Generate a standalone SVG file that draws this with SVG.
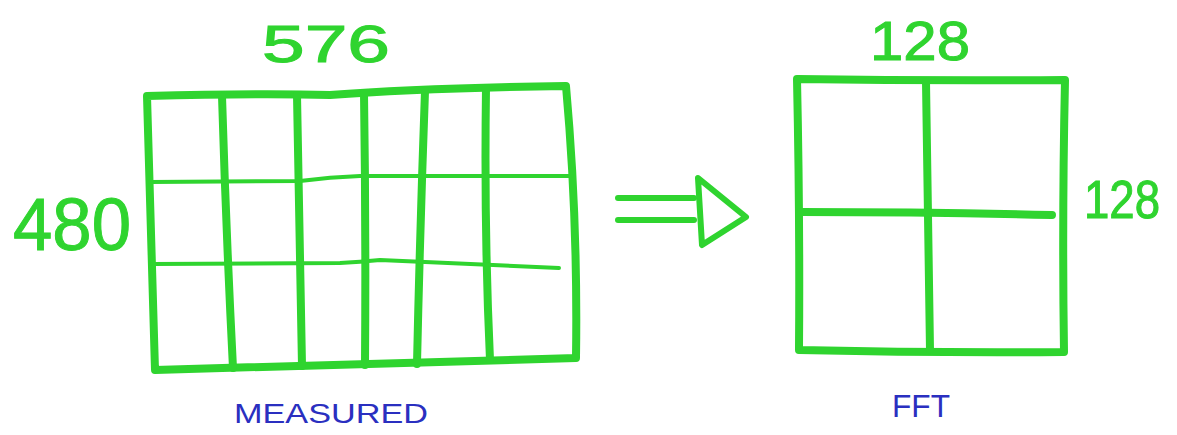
<svg xmlns="http://www.w3.org/2000/svg" width="1177" height="435" viewBox="0 0 1177 435">
<style>
.g{fill:none;stroke:#2fd42f;stroke-width:8;stroke-linecap:round;stroke-linejoin:round}
.t{fill:none;stroke:#2fd42f;stroke-width:4;stroke-linecap:round}
.a{fill:none;stroke:#2fd42f;stroke-width:6;stroke-linecap:round;stroke-linejoin:round}
.n{font-family:"Liberation Sans",Arial,sans-serif;fill:#2fd42f;stroke:#2fd42f;stroke-width:1;text-anchor:middle}
.l{font-family:"Liberation Sans",Arial,sans-serif;fill:#2a2fc0;text-anchor:middle}
</style>
<rect width="1177" height="435" fill="#ffffff"/>
<g id="measured">
<path class="g" d="M147 96 Q260 93 330 95 Q420 88 566 86 Q578 220 576 358 Q360 364 155 370 Q151 230 147 96 Z"/>
<path class="g" d="M222 96 Q226 230 233 368"/>
<path class="g" d="M297 95 Q300 230 302 366"/>
<path class="g" d="M364 93 Q366 230 365 365"/>
<path class="g" d="M425 91 Q420 230 417 364"/>
<path class="g" d="M486 88 Q484 230 490 360"/>
<path class="t" d="M150 182 L300 181 Q330 177 360 176 L572 176"/>
<path class="t" d="M152 264 L340 263 Q360 262 380 260 L559 268"/>
<text class="n" x="326" y="62" font-size="52" textLength="128" lengthAdjust="spacingAndGlyphs">576</text>
<text class="n" x="72" y="250" font-size="74" textLength="118" lengthAdjust="spacingAndGlyphs">480</text>
<text class="l" x="331" y="423" font-size="27" textLength="194" lengthAdjust="spacingAndGlyphs">MEASURED</text>
</g>
<g id="connectors">
<path class="a" d="M618 198 L694 198"/>
<path class="a" d="M618 220 L694 220"/>
<path class="a" d="M698 178 L746 217 L702 245 Z"/>
</g>
<g id="fft">
<path class="g" d="M797 79 Q930 81 1065 80 Q1062 220 1064 352 Q930 353 799 350 Q800 220 797 79 Z"/>
<path class="g" d="M926 82 Q928 220 930 350"/>
<path class="g" d="M801 212 Q930 212 1052 215"/>
<text class="n" x="920" y="60" font-size="55" textLength="100" lengthAdjust="spacingAndGlyphs">128</text>
<text class="n" x="1122" y="218" font-size="54" textLength="76" lengthAdjust="spacingAndGlyphs">128</text>
<text class="l" x="921" y="417" font-size="32" textLength="58" lengthAdjust="spacingAndGlyphs">FFT</text>
</g>
</svg>
